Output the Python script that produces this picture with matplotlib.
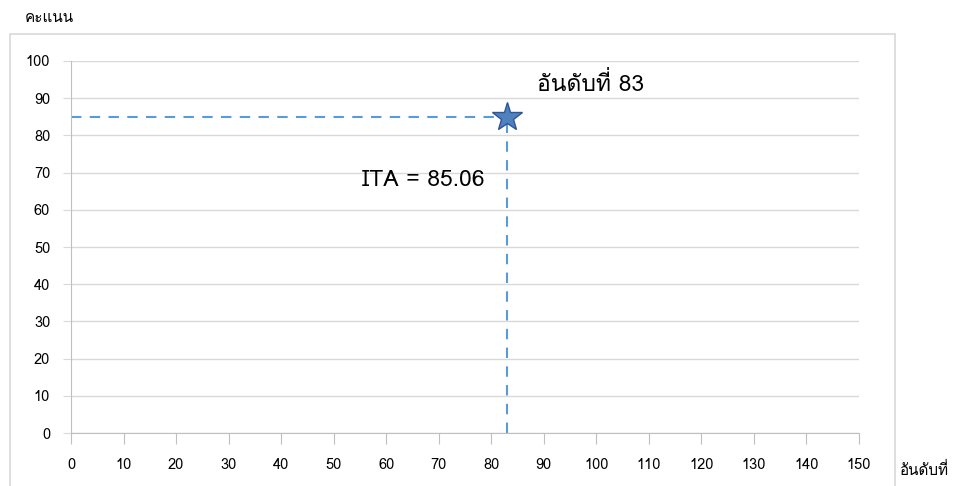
import matplotlib
matplotlib.use('Agg')
import matplotlib.pyplot as plt
from matplotlib import font_manager
from matplotlib.patches import Rectangle

# fonts with Thai glyphs, if any installed
thai = [f.name for f in font_manager.fontManager.ttflist if 'Thai' in f.name or 'Loma' in f.name or 'Garuda' in f.name]
plt.rcParams['font.family'] = thai[:1] + ['Noto Sans', 'DejaVu Sans']

rank = [83]
score = [85.06]
x_ticks = list(range(0, 151, 10))
y_ticks = list(range(0, 101, 10))
y_label = 'คะแนน'
x_label = 'อันดับที่'
rank_text = 'อันดับที่ 83'
score_text = 'ITA = 85.06'

fig = plt.figure(figsize=(9.55, 4.86), dpi=100)
ax = fig.add_axes([71/955, 1-433/486, (859-71)/955, (433-61)/486])

# chart frame
fig.patches.append(Rectangle((10/955, -0.1), (895-10)/955, 1.1 - 34/486,
                             transform=fig.transFigure, fill=False,
                             edgecolor='#d9d9d9', linewidth=1.2))

ax.set_xlim(0, 150)
ax.set_ylim(0, 100)
ax.set_xticks(x_ticks)
ax.set_yticks(y_ticks)
ax.grid(axis='y', color='#d9d9d9', linewidth=1)
ax.set_axisbelow(True)
for s in ['top', 'right']:
    ax.spines[s].set_visible(False)
for s in ['left', 'bottom']:
    ax.spines[s].set_color('#bfbfbf')
ax.tick_params(axis='x', length=8, color='#bfbfbf', labelsize=10.5, pad=10)
ax.tick_params(axis='y', length=6, color='#d9d9d9', labelsize=10.5, pad=9)

# guide lines
ax.plot([0, rank[0]], [score[0], score[0]], color='#5b9bd5', lw=1.5, dashes=(5, 4))
ax.plot([rank[0], rank[0]], [0, score[0]], color='#5b9bd5', lw=1.5, dashes=(5, 4))
ax.plot(rank, score, marker='*', markersize=22, color='#4f81bd',
        markeredgecolor='#2f5597', markeredgewidth=1, linestyle='none', clip_on=False)

ax.text(rank[0] + 5.7, score[0] + 8.8, rank_text, fontsize=16.5, ha='left', va='center')
ax.text(rank[0] - 4.2, score[0] - 17.3, score_text, fontsize=16.5, ha='right', va='center')

fig.text(25/955, 1-18/486, y_label, fontsize=11, ha='left', va='center')
fig.text(900/955, 1-470/486, x_label, fontsize=11, ha='left', va='center')

fig.savefig('out.png', dpi=100)
